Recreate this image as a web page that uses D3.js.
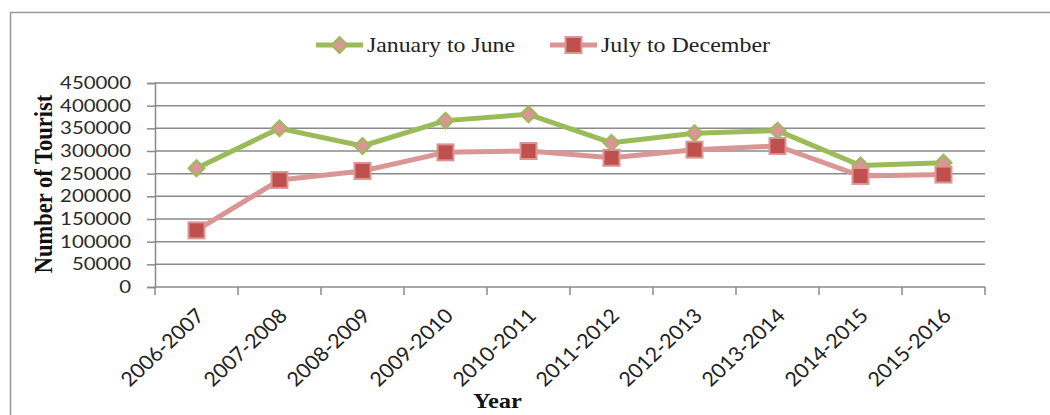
<!DOCTYPE html>
<html>
<head>
<meta charset="utf-8">
<script src="https://cdn.jsdelivr.net/npm/d3@7"></script>
<style>
  body { margin: 0; background: #fff; }
</style>
</head>
<body>
<div id="chart"></div>
<script>
const years = ["2006-2007", "2007-2008", "2008-2009", "2009-2010", "2010-2011",
               "2011-2012", "2012-2013", "2013-2014", "2014-2015", "2015-2016"];
const janToJune = [262000, 350000, 311000, 367000, 381000, 318000, 339000, 345000, 268000, 274000];
const julToDec = [125000, 236000, 256000, 297000, 300000, 285000, 303000, 311000, 245000, 248000];
const yTicks = [0, 50000, 100000, 150000, 200000, 250000, 300000, 350000, 400000, 450000];

const width = 1050, height = 415;
const margin = {top: 83, right: 65, bottom: 128, left: 155};
const stretch = 1.2; // the original picture is a bit wider than tall

const svg = d3.select("#chart")
  .append("svg")
  .attr("width", width)
  .attr("height", height);

// outer frame, runs off the right/bottom edge like the original
svg.append("rect")
  .attr("x", 10.5).attr("y", 12.5)
  .attr("width", width).attr("height", height)
  .attr("fill", "none")
  .attr("stroke", "#999")
  .attr("stroke-width", 1.5);

const x = d3.scaleBand()
  .domain(years)
  .range([margin.left, width - margin.right]);

const y = d3.scaleLinear()
  .domain([0, 450000])
  .range([height - margin.bottom, margin.top]);

// gridlines
svg.append("g")
  .selectAll("line")
  .data(yTicks.slice(1))
  .join("line")
  .attr("x1", margin.left)
  .attr("x2", width - margin.right)
  .attr("y1", d => y(d))
  .attr("y2", d => y(d))
  .attr("stroke", "#8a8a8a")
  .attr("stroke-width", 1.5);

// y axis
const yAxis = svg.append("g")
  .attr("transform", `translate(${margin.left},0)`)
  .call(d3.axisLeft(y).tickValues(yTicks).tickSize(8).tickPadding(16).tickFormat(d3.format("d")));
yAxis.select(".domain").attr("stroke", "#8a8a8a").attr("stroke-width", 1.5);
yAxis.selectAll(".tick line").attr("stroke", "#8a8a8a").attr("stroke-width", 1.5);
yAxis.selectAll("text")
  .attr("x", -24 / stretch)
  .attr("transform", `scale(${stretch},1)`)
  .attr("fill", "#2a2a2a")
  .style("font-family", "Lato, sans-serif")
  .style("font-size", "17px");

// x axis: ticks sit on category boundaries
const xg = svg.append("g")
  .attr("transform", `translate(0,${y(0)})`);
xg.append("line")
  .attr("x1", margin.left).attr("x2", width - margin.right)
  .attr("stroke", "#8a8a8a").attr("stroke-width", 1.5);
const bounds = years.map(d => x(d)).concat([x.range()[1]]);
xg.selectAll("line.tk")
  .data(bounds)
  .join("line")
  .attr("class", "tk")
  .attr("x1", d => d).attr("x2", d => d)
  .attr("y1", 0).attr("y2", 8)
  .attr("stroke", "#8a8a8a").attr("stroke-width", 1.5);
xg.selectAll("text")
  .data(years)
  .join("text")
  .attr("transform", d => `translate(${x(d) + x.bandwidth() / 2 + 9},${30}) scale(1.07,1) rotate(-45)`)
  .attr("text-anchor", "end")
  .attr("fill", "#222")
  .style("font-family", "Lato, sans-serif")
  .style("font-size", "20px")
  .text(d => d);

const cx = d => x(d) + x.bandwidth() / 2;

const line = d3.line()
  .x((d, i) => cx(years[i]))
  .y(d => y(d));

svg.append("path")
  .datum(julToDec)
  .attr("d", line)
  .attr("fill", "none")
  .attr("stroke", "#D99694")
  .attr("stroke-width", 5)
  .attr("stroke-linejoin", "round");

svg.append("path")
  .datum(janToJune)
  .attr("d", line)
  .attr("fill", "none")
  .attr("stroke", "#9BBB59")
  .attr("stroke-width", 5)
  .attr("stroke-linejoin", "round");

const diamond = "M0,-8L8,0L0,8L-8,0Z";

svg.append("g")
  .selectAll("path")
  .data(janToJune)
  .join("path")
  .attr("d", diamond)
  .attr("transform", (d, i) => `translate(${cx(years[i])},${y(d)})`)
  .attr("fill", "#D99694")
  .attr("stroke", "#9BBB59")
  .attr("stroke-width", 2);

svg.append("g")
  .selectAll("rect")
  .data(julToDec)
  .join("rect")
  .attr("x", (d, i) => cx(years[i]) - 8)
  .attr("y", d => y(d) - 8)
  .attr("width", 16)
  .attr("height", 16)
  .attr("fill", "#C0504D")
  .attr("stroke", "#D99694")
  .attr("stroke-width", 2);

// legend
const legend = svg.append("g").attr("transform", "translate(0,45)");
legend.append("line").attr("x1", 316).attr("x2", 363)
  .attr("stroke", "#9BBB59").attr("stroke-width", 5);
legend.append("path").attr("d", diamond)
  .attr("transform", "translate(339.5,0)")
  .attr("fill", "#D99694").attr("stroke", "#9BBB59").attr("stroke-width", 2);
legend.append("text").attr("x", 367).attr("y", 7)
  .attr("textLength", 148).attr("lengthAdjust", "spacingAndGlyphs")
  .style("font-family", "'Liberation Serif', serif").style("font-size", "22px")
  .attr("fill", "#222").text("January to June");
legend.append("line").attr("x1", 550).attr("x2", 597)
  .attr("stroke", "#D99694").attr("stroke-width", 5);
legend.append("rect").attr("x", 565.5).attr("y", -8).attr("width", 16).attr("height", 16)
  .attr("fill", "#C0504D").attr("stroke", "#D99694").attr("stroke-width", 2);
legend.append("text").attr("x", 601).attr("y", 7)
  .attr("textLength", 169).attr("lengthAdjust", "spacingAndGlyphs")
  .style("font-family", "'Liberation Serif', serif").style("font-size", "22px")
  .attr("fill", "#222").text("July to December");

// axis titles
svg.append("text")
  .attr("transform", "translate(52,184) scale(1.15,1) rotate(-90)")
  .attr("text-anchor", "middle")
  .style("font-family", "'Liberation Serif', serif")
  .style("font-size", "22.5px")
  .style("font-weight", "bold")
  .attr("fill", "#111")
  .text("Number of Tourist");

svg.append("text")
  .attr("x", 473).attr("y", 408)
  .attr("textLength", 49).attr("lengthAdjust", "spacingAndGlyphs")
  .style("font-family", "'Liberation Serif', serif")
  .style("font-size", "21px")
  .style("font-weight", "bold")
  .attr("fill", "#111")
  .text("Year");
</script>
</body>
</html>
